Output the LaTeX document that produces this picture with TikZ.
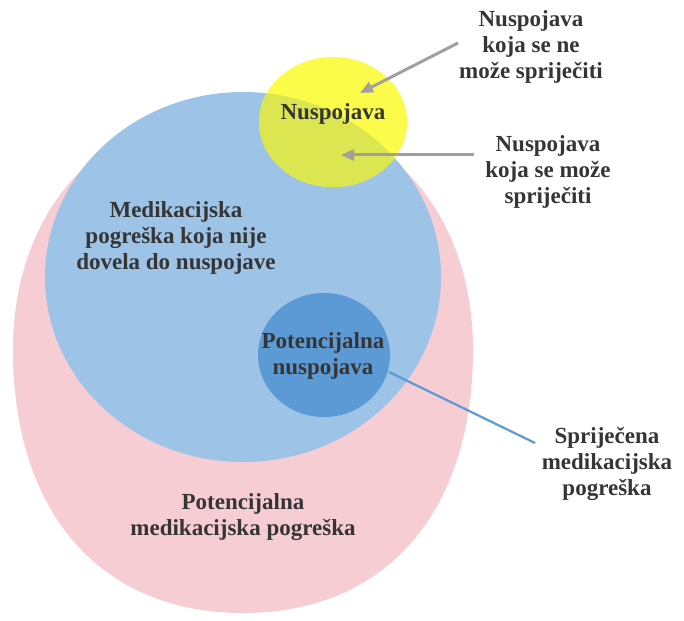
\documentclass[tikz,border=0pt]{standalone}
\usepackage{fontspec}
\setmainfont{Liberation Serif}
\usetikzlibrary{arrows.meta}
\definecolor{pinkc}{HTML}{F6CDD3}
\definecolor{lblue}{HTML}{9DC3E6}
\definecolor{dblue}{HTML}{5B9AD5}
\definecolor{yel}{HTML}{FBFB4A}
\definecolor{ovl}{HTML}{DCE650}
\definecolor{txt}{HTML}{353535}
\definecolor{arrg}{HTML}{A0A0A0}
\tikzset{
  lbl/.style={font=\fontsize{23}{26}\selectfont\bfseries, text=txt, align=center, inner sep=0pt},
  grayarrow/.style={draw=arrg, line width=3pt, -{Triangle[length=13pt,width=11pt]}},
  blueline/.style={draw=dblue, line width=2.2pt}
}
\begin{document}
\begin{tikzpicture}[x=1pt,y=-1pt]
\useasboundingbox (0,0) rectangle (684,620);
% shapes
\fill[pinkc] (13,350) .. controls (13,207) and (105,108) .. (243,108)
  .. controls (381,108) and (473,207) .. (473,350)
  .. controls (473,512) and (386,613) .. (243,613)
  .. controls (100,613) and (13,512) .. (13,350) -- cycle;
\fill[lblue] (243,277) ellipse [x radius=198, y radius=185];
\fill[dblue] (324,355) ellipse [x radius=66, y radius=62];
\fill[yel] (333,122) ellipse [x radius=74, y radius=65];
\begin{scope}
  \clip (243,277) ellipse [x radius=198, y radius=185];
  \fill[ovl] (333,122) ellipse [x radius=74, y radius=65];
\end{scope}
% labels
\node[lbl] (nusp) at (333,114) {Nuspojava};
\node[lbl] (medi) at (176,238) {Medikacijska\\pogreška koja nije\\dovela do nuspojave};
\node[lbl] (potn) at (323,356) {Potencijalna\\nuspojava};
\node[lbl] (potm) at (243,517) {Potencijalna\\medikacijska pogreška};
\node[lbl] (nesp) at (531,47) {Nuspojava\\koja se ne\\može spriječiti};
\node[lbl] (mosp) at (548,172) {Nuspojava\\koja se može\\spriječiti};
\node[lbl] (sprm) at (607,464) {Spriječena\\medikacijska\\pogreška};
% connectors
\coordinate (a1s) at (458,43);
\coordinate (a1e) at (360,93);
\coordinate (a2s) at (474,155);
\coordinate (a2e) at (341,155);
\coordinate (b1s) at (389,372);
\coordinate (b1e) at (535,443);
\draw[grayarrow] (a1s) -- (a1e);
\draw[grayarrow] (a2s) -- (a2e);
\draw[blueline] (b1s) -- (b1e);
\end{tikzpicture}
\end{document}
